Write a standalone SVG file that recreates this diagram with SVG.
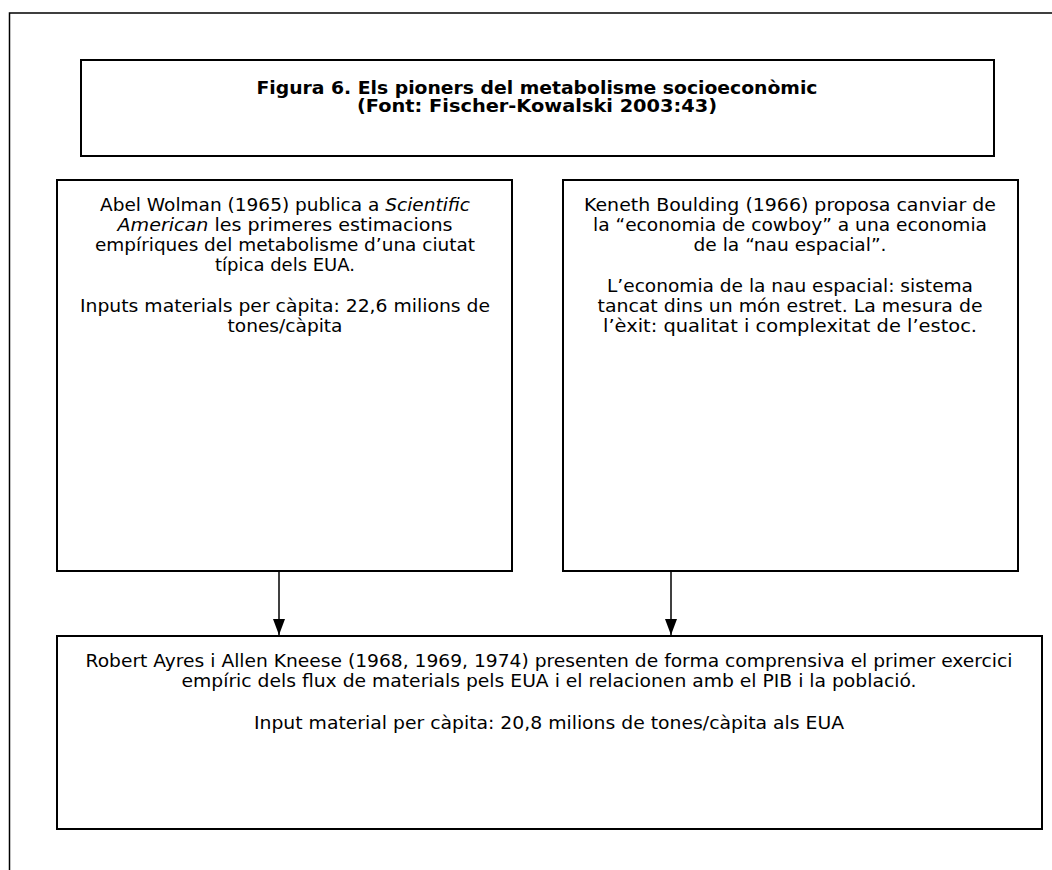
<svg xmlns="http://www.w3.org/2000/svg" width="1052" height="870" viewBox="0 0 1052 870">
  <defs>
    <style>
      .box { fill: #ffffff; stroke: #000000; stroke-width: 2; }
      .txt { font-family: "DejaVu Sans", "Verdana", sans-serif; font-size: 17.5px; fill: #000000; text-anchor: middle; }
      .ttl { font-family: "DejaVu Sans", "Verdana", sans-serif; font-size: 17px; font-weight: bold; fill: #000000; text-anchor: middle; }
      .con { stroke: #000000; stroke-width: 1.5; fill: none; }
    </style>
    <marker id="arrow" markerWidth="16" markerHeight="12" refX="16" refY="6" orient="auto" markerUnits="userSpaceOnUse" viewBox="0 0 16 12">
      <path d="M0,0 L16,6 L0,12 Z" fill="#000000"/>
    </marker>
  </defs>
  <rect id="frame" x="9.5" y="13" width="1060" height="880" fill="#ffffff" stroke="#000000" stroke-width="1.5"/>

  <g id="title">
    <rect class="box" x="81" y="60" width="913" height="96"/>
    <text class="ttl" x="537" y="94" textLength="561" lengthAdjust="spacingAndGlyphs">Figura 6. Els pioners del metabolisme socioeconòmic</text>
    <text class="ttl" x="537" y="112" textLength="360" lengthAdjust="spacingAndGlyphs">(Font: Fischer-Kowalski 2003:43)</text>
  </g>

  <g id="wolman">
    <rect class="box" x="57" y="180" width="455" height="391"/>
    <text class="txt" x="285" y="211" textLength="370" lengthAdjust="spacingAndGlyphs">Abel Wolman (1965) publica a <tspan font-style="italic">Scientific</tspan></text>
    <text class="txt" x="285" y="231" textLength="335" lengthAdjust="spacingAndGlyphs"><tspan font-style="italic">American</tspan> les primeres estimacions</text>
    <text class="txt" x="285" y="251" textLength="380" lengthAdjust="spacingAndGlyphs">empíriques del metabolisme d’una ciutat</text>
    <text class="txt" x="285" y="271" textLength="140" lengthAdjust="spacingAndGlyphs">típica dels EUA.</text>
    <text class="txt" x="285" y="312" textLength="410" lengthAdjust="spacingAndGlyphs">Inputs materials per càpita: 22,6 milions de</text>
    <text class="txt" x="285" y="332" textLength="115" lengthAdjust="spacingAndGlyphs">tones/càpita</text>
  </g>

  <g id="boulding">
    <rect class="box" x="563" y="180" width="455" height="391"/>
    <text class="txt" x="790" y="211" textLength="412" lengthAdjust="spacingAndGlyphs">Keneth Boulding (1966) proposa canviar de</text>
    <text class="txt" x="790" y="231" textLength="394" lengthAdjust="spacingAndGlyphs">la “economia de cowboy” a una economia</text>
    <text class="txt" x="790" y="251" textLength="193" lengthAdjust="spacingAndGlyphs">de la “nau espacial”.</text>
    <text class="txt" x="790" y="292" textLength="366" lengthAdjust="spacingAndGlyphs">L’economia de la nau espacial: sistema</text>
    <text class="txt" x="790" y="312" textLength="385" lengthAdjust="spacingAndGlyphs">tancat dins un món estret. La mesura de</text>
    <text class="txt" x="790" y="332" textLength="374" lengthAdjust="spacingAndGlyphs">l’èxit: qualitat i complexitat de l’estoc.</text>
  </g>

  <g id="ayres">
    <rect class="box" x="57" y="636" width="985" height="193"/>
    <text class="txt" x="549" y="667" textLength="927" lengthAdjust="spacingAndGlyphs">Robert Ayres i Allen Kneese (1968, 1969, 1974) presenten de forma comprensiva el primer exercici</text>
    <text class="txt" x="549" y="687" textLength="735" lengthAdjust="spacingAndGlyphs">empíric dels flux de materials pels EUA i el relacionen amb el PIB i la població.</text>
    <text class="txt" x="549" y="729" textLength="590" lengthAdjust="spacingAndGlyphs">Input material per càpita: 20,8 milions de tones/càpita als EUA</text>
  </g>

  <g id="connectors">
    <line class="con" x1="279" y1="571" x2="279" y2="635" marker-end="url(#arrow)"/>
    <line class="con" x1="671" y1="571" x2="671" y2="635" marker-end="url(#arrow)"/>
  </g>
</svg>
